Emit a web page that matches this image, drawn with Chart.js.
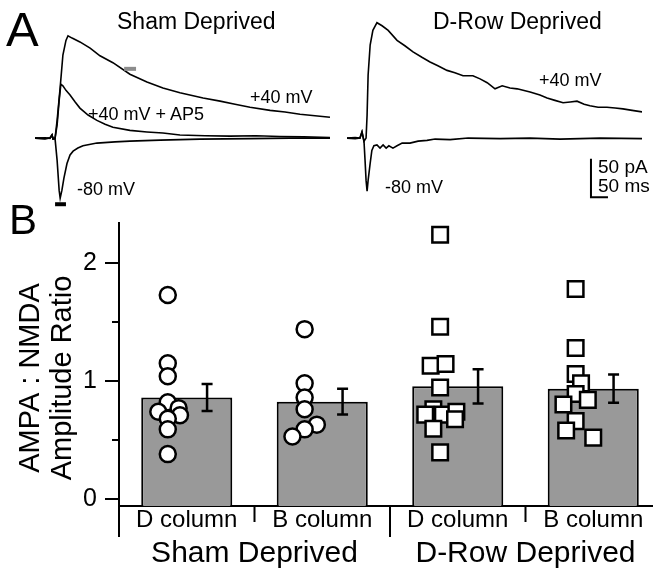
<!DOCTYPE html>
<html>
<head>
<meta charset="utf-8">
<script src="https://cdn.jsdelivr.net/npm/chart.js@4.4.1/dist/chart.umd.min.js"></script>
<style>
  body { margin: 0; width: 653px; height: 572px; overflow: hidden; background: #fff; position: relative;
         font-family: "Liberation Sans", Arial, Helvetica, sans-serif; }
  canvas { position: absolute; }
  .lbl { position: absolute; white-space: nowrap; line-height: 1; color: #000; }
</style>
</head>
<body>
<canvas id="traceSham" width="296" height="200" style="left:35px;top:15px"></canvas>
<canvas id="traceDrow" width="296" height="200" style="left:346px;top:15px"></canvas>
<canvas id="ratioChart" width="670" height="372" style="left:0;top:200px"></canvas>

<div class="lbl" style="font-size:49px;left:6px;top:5px">A</div>
<div class="lbl" style="font-size:23px;left:117px;top:10px">Sham Deprived</div>
<div class="lbl" style="font-size:23px;left:433px;top:10px">D-Row Deprived</div>
<div class="lbl" style="font-size:18px;left:250px;top:88px">+40 mV</div>
<div class="lbl" style="font-size:18px;left:88px;top:105px">+40 mV + AP5</div>
<div class="lbl" style="font-size:18px;left:77px;top:180px">-80 mV</div>
<div class="lbl" style="font-size:18px;left:539px;top:71px">+40 mV</div>
<div class="lbl" style="font-size:18px;left:385px;top:178px">-80 mV</div>
<div class="lbl" style="font-size:19px;left:598px;top:157px">50 pA</div>
<div class="lbl" style="font-size:19px;left:598px;top:176px">50 ms</div>
<div class="lbl" style="font-size:42px;left:9px;top:199px">B</div>

<script>
// ---- panel A: example currents (time in ms from stimulus, current in pA) ----
const shamT40 = [-50, -21, -6, 0, 3, 9, 15, 24, 32, 41, 47, 59, 82, 112, 141, 179, 229, 279, 326, 376, 444, 494, 538, 582, 641, 685, 729, 773, 817];
const shamI40 = [0, -1, 0, 4, -1, 0, 23, 66, 108, 127, 133, 130, 125, 117, 107, 98, 83, 73, 65, 59, 52, 48, 44, 40, 36, 34, 31, 29, 27];

const shamTAp5 = [-50, -20, -6, 0, 3, 9, 15, 21, 26, 32, 41, 53, 68, 82, 106, 132, 156, 179, 229, 279, 326, 376, 450, 523, 600, 670, 740, 817];
const shamIAp5 = [0, 0.5, -0.5, 4, -1, 0, 17, 49, 70, 68, 62, 56, 47, 39, 30, 23, 18, 14, 10, 8, 6.5, 4, 3, 2.6, 3, 2, 1.5, 0.7];

const shamT80 = [-50, -20, -6, 0, 3, 9, 15, 21, 24, 29, 35, 44, 53, 62, 76, 91, 132, 185, 229, 318, 435, 582, 700, 817];
const shamI80 = [0, -0.5, 0.5, 4, -1, -1, -29, -68, -78, -68, -52, -33, -22, -17, -13, -10, -6.5, -5, -4, -2.6, -1.3, -0.7, 0, 0];

const drowT40 = [-47, -23, -9, -3, 3, 9, 12, 15, 21, 29, 41, 56, 74, 100, 123, 147, 173, 197, 220, 247, 270, 294, 323, 344, 365, 388, 409, 432, 453, 491, 520, 541, 564, 588, 609, 629, 650, 667, 691, 717, 741, 764, 791, 820];
const drowI40 = [0, 0.7, 0, 8, -4, 0, 30, 82, 121, 140, 150, 146, 140, 127, 120, 112, 105, 99, 94, 88, 85, 81, 81, 77, 72, 64, 68, 65, 64, 60, 56, 52, 49, 46, 47, 48, 44, 42, 40, 40, 39, 38, 36, 34];

const drowT80 = [-47, -23, -9, -3, 3, 6, 9, 12, 15, 21, 26, 32, 41, 50, 59, 68, 76, 88, 100, 115, 138, 162, 188, 212, 256, 309, 403, 491, 579, 697, 820];
const drowI80 = [0, -0.7, 0, 8, -5, -29, -55, -69, -55, -33, -16, -10, -9, -13, -9, -13, -10, -13, -10, -6.5, -6.5, -4, -3, -1.3, -2, 0, -0.7, 0, -1.3, 0, -0.7];

// measurement windows (ms) and their level (pA)
const nmdaWindowT = [212, 247], nmdaWindowI = 90;
const ampaWindowT = [9, 41], ampaWindowI = -86;

// scale bar: 50 ms x 50 pA
const scaleBarT = [670, 670, 720];
const scaleBarI = [-27, -77, -77];

const tRange = [-50, 820];
const iRange = [-100, 160];

// ---- panel B: AMPA:NMDA amplitude ratio ----
const columns = ['D column', 'B column', 'D column', 'B column'];
const groups = ['Sham Deprived', 'D-Row Deprived'];
const meanRatio = [0.86, 0.825, 0.955, 0.935];
const semRatio = [0.115, 0.11, 0.145, 0.12];

const shamD = [1.73, 1.15, 1.04, 0.82, 0.74, 0.77, 0.71, 0.68, 0.59, 0.38];
const shamDJitter = [-0.14, -0.14, -0.14, -0.14, -0.21, -0.06, -0.05, -0.14, -0.14, -0.14];
const shamB = [1.44, 0.98, 0.86, 0.76, 0.63, 0.59, 0.53];
const shamBJitter = [-0.13, -0.13, -0.13, -0.13, -0.04, -0.13, -0.22];
const drowD = [2.24, 1.46, 1.13, 1.145, 0.945, 0.76, 0.715, 0.715, 0.74, 0.675, 0.595, 0.395];
const drowDJitter = [-0.13, -0.13, -0.2, -0.09, -0.13, -0.18, -0.24, -0.11, -0.01, -0.02, -0.18, -0.13];
const drowB = [1.78, 1.28, 1.06, 0.98, 0.89, 0.84, 0.80, 0.66, 0.58, 0.52];
const drowBJitter = [-0.13, -0.13, -0.13, -0.09, -0.13, -0.04, -0.22, -0.13, -0.2, 0.0];

const yMin = -0.06, yMax = 2.34;
const yMajor = [0, 1, 2];
const yMinor = [0.5, 1.5];

const FONT = '"Liberation Sans", Arial, Helvetica, sans-serif';

function zip(ts, is) {
    return ts.map((t, k) => ({ x: t, y: is[k] }));
}

function trace(ts, is, extra) {
    return Object.assign({
        data: zip(ts, is), borderColor: '#000', borderWidth: 1.6,
        pointRadius: 0, tension: 0, fill: false
    }, extra || {});
}

function traceChart(id, datasets) {
    return new Chart(document.getElementById(id), {
        type: 'line',
        data: { datasets: datasets },
        options: {
            responsive: false, animation: false, events: [],
            layout: { padding: 0, autoPadding: false },
            plugins: { legend: { display: false }, tooltip: { enabled: false } },
            scales: {
                x: { type: 'linear', min: tRange[0], max: tRange[1], display: false },
                y: { type: 'linear', min: iRange[0], max: iRange[1], display: false }
            }
        }
    });
}

traceChart('traceSham', [
    trace(nmdaWindowT, [nmdaWindowI, nmdaWindowI], { borderColor: '#8c8c8c', borderWidth: 4 }),
    trace(ampaWindowT, [ampaWindowI, ampaWindowI], { borderWidth: 4 }),
    trace(shamT80, shamI80),
    trace(shamTAp5, shamIAp5),
    trace(shamT40, shamI40)
]);

traceChart('traceDrow', [
    trace(scaleBarT, scaleBarI, { borderWidth: 2 }),
    trace(drowT80, drowI80),
    trace(drowT40, drowI40)
]);

// points for the scatter overlay
function cells(values, jitter, idx) {
    return values.map((v, k) => ({ x: idx + jitter[k], y: v }));
}

const ratioExtras = {
    id: 'ratioExtras',
    afterDatasetsDraw(chart) {
        const ctx = chart.ctx, y = chart.scales.y, xs = chart.scales.xs;
        ctx.save();
        ctx.strokeStyle = '#000';
        ctx.lineWidth = 2.5;
        meanRatio.forEach((m, i) => {
            const px = xs.getPixelForValue(i + 0.15);
            const hi = y.getPixelForValue(m + semRatio[i]);
            const lo = y.getPixelForValue(m - semRatio[i]);
            ctx.beginPath();
            ctx.moveTo(px, hi); ctx.lineTo(px, lo);
            ctx.moveTo(px - 5.5, hi); ctx.lineTo(px + 5.5, hi);
            ctx.moveTo(px - 5.5, lo); ctx.lineTo(px + 5.5, lo);
            ctx.stroke();
        });
        ctx.restore();
    },
    afterDraw(chart) {
        const ctx = chart.ctx, area = chart.chartArea, y = chart.scales.y, xs = chart.scales.xs;
        ctx.save();
        ctx.strokeStyle = '#000';
        ctx.lineWidth = 2;
        ctx.beginPath();
        // minor ticks
        yMinor.forEach(v => {
            const py = y.getPixelForValue(v);
            ctx.moveTo(area.left - 7, py); ctx.lineTo(area.left, py);
        });
        // y axis carries on as the left separator
        ctx.moveTo(area.left, area.bottom); ctx.lineTo(area.left, area.bottom + 31);
        // category separators: long between groups, short inside a group
        for (let k = 1; k <= columns.length; k++) {
            const px = xs.getPixelForValue(k - 0.5);
            const len = (k % 2 === 0) ? 31 : 16;
            ctx.moveTo(px, area.bottom); ctx.lineTo(px, area.bottom + len);
        }
        ctx.stroke();

        // y axis title, two rotated lines
        ctx.fillStyle = '#000';
        ctx.font = '29px ' + FONT;
        ctx.textAlign = 'center';
        ctx.textBaseline = 'alphabetic';
        [['AMPA : NMDA', 39], ['Amplitude Ratio', 71]].forEach(([txt, bx]) => {
            ctx.save();
            ctx.translate(bx, 178);
            ctx.rotate(-Math.PI / 2);
            ctx.fillText(txt, 0, 0);
            ctx.restore();
        });
        ctx.restore();
    }
};

const pointStyleCircle = { type: 'scatter', xAxisID: 'xs', yAxisID: 'y', order: 1,
    pointStyle: 'circle', pointRadius: 8, borderWidth: 2.5, borderColor: '#000', backgroundColor: '#fff' };
const pointStyleSquare = { type: 'scatter', xAxisID: 'xs', yAxisID: 'y', order: 1,
    pointStyle: 'rect', pointRadius: 11, borderWidth: 2.5, borderColor: '#000', backgroundColor: '#fff' };

new Chart(document.getElementById('ratioChart'), {
    type: 'bar',
    data: {
        labels: columns,
        datasets: [
            Object.assign({ data: cells(shamD, shamDJitter, 0) }, pointStyleCircle),
            Object.assign({ data: cells(shamB, shamBJitter, 1) }, pointStyleCircle),
            Object.assign({ data: cells(drowD, drowDJitter, 2) }, pointStyleSquare),
            Object.assign({ data: cells(drowB, drowBJitter, 3) }, pointStyleSquare),
            {
                type: 'bar', data: meanRatio, order: 2, xAxisID: 'x', yAxisID: 'y',
                grouped: false, base: yMin,
                backgroundColor: '#999999', borderColor: '#000', borderWidth: 2,
                categoryPercentage: 1, barPercentage: 0.672
            }
        ]
    },
    options: {
        responsive: false, animation: false, events: [],
        layout: { padding: { top: 18, right: 9, bottom: 0, left: 0 }, autoPadding: false },
        plugins: { legend: { display: false }, tooltip: { enabled: false } },
        scales: {
            y: {
                min: yMin, max: yMax,
                afterBuildTicks: s => { s.ticks = yMajor.map(v => ({ value: v })); },
                afterFit: s => { s.width = 119; },
                border: { display: true, color: '#000', width: 2 },
                grid: { display: true, drawOnChartArea: false, drawTicks: true, tickLength: 14, color: '#000', lineWidth: 2 },
                ticks: { color: '#000', padding: 8, font: { family: FONT, size: 25 } }
            },
            x: {
                type: 'category', position: 'bottom', offset: true, weight: 0,
                afterFit: s => { s.height = 30; },
                border: { display: true, color: '#000', width: 2 },
                grid: { display: false, drawTicks: false },
                ticks: { color: '#000', padding: 0, maxRotation: 0, autoSkip: false, font: { family: FONT, size: 24 } }
            },
            x2: {
                type: 'category', position: 'bottom', offset: true, weight: 1, labels: groups,
                afterFit: s => { s.height = 36; },
                border: { display: false },
                grid: { display: false, drawTicks: false },
                ticks: { color: '#000', padding: 0, maxRotation: 0, autoSkip: false, font: { family: FONT, size: 30 } }
            },
            xs: { type: 'linear', offset: false, min: -0.5, max: columns.length - 0.5, display: false }
        }
    },
    plugins: [ratioExtras]
});
</script>
</body>
</html>
